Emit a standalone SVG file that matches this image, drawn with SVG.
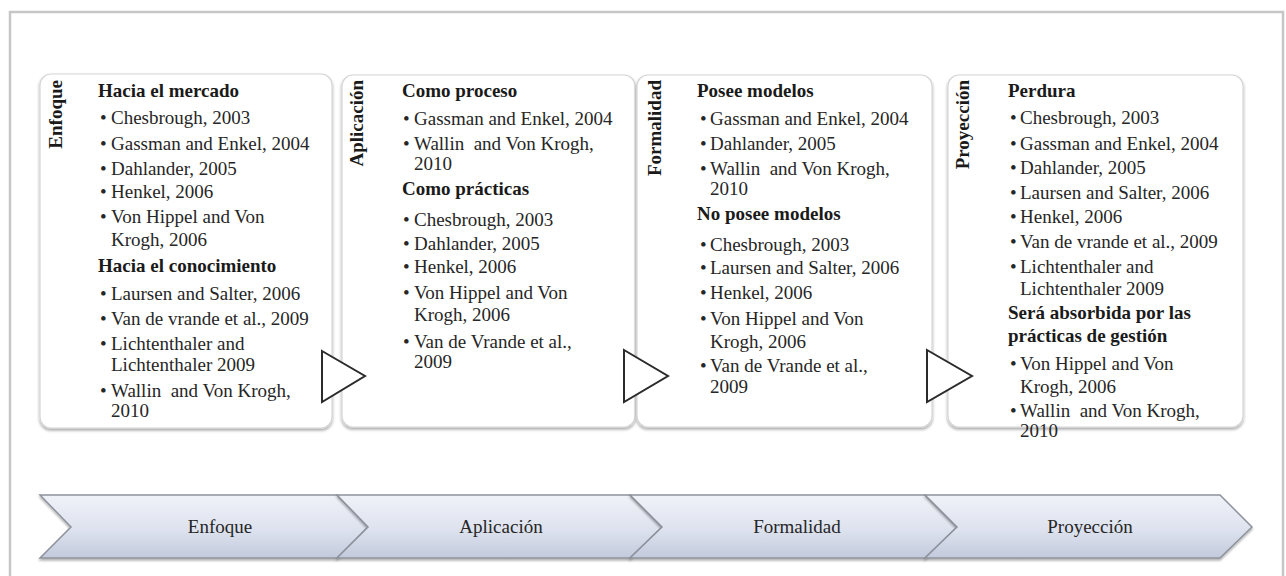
<svg xmlns="http://www.w3.org/2000/svg" width="1286" height="576" viewBox="0 0 1286 576">
  <style>
    .frame { fill: #ffffff; stroke: #c6c6c6; stroke-width: 2.5; }
    .card { fill: #ffffff; stroke: #d6d6d6; stroke-width: 1.2; filter: url(#cardShadow); }
    .t { font-family: "Liberation Serif", "Times New Roman", serif; font-size: 19px; fill: #262626; }
    .h { font-family: "Liberation Serif", "Times New Roman", serif; font-size: 19px; font-weight: bold; fill: #1a1a1a; }
    .side { font-family: "Liberation Serif", "Times New Roman", serif; font-size: 19px; font-weight: bold; fill: #1a1a1a; text-anchor: end; }
    .tri { fill: #ffffff; stroke: #2b2b2b; stroke-width: 2; stroke-linejoin: miter; }
    .chev { fill: url(#chevFill); stroke: #8d929c; stroke-width: 1.5; stroke-linejoin: miter; filter: url(#chevShadow); }
    .ct { font-family: "Liberation Serif", "Times New Roman", serif; font-size: 19px; fill: #262626; text-anchor: middle; }
  </style>
  <defs>
    <filter id="cardShadow" x="-10%" y="-10%" width="120%" height="120%">
      <feDropShadow dx="0" dy="2" stdDeviation="1.6" flood-color="#000000" flood-opacity="0.35"/>
    </filter>
    <filter id="chevShadow" x="-5%" y="-20%" width="110%" height="150%">
      <feDropShadow dx="0" dy="2" stdDeviation="1.2" flood-color="#000000" flood-opacity="0.3"/>
    </filter>
    <linearGradient id="chevFill" x1="0" y1="0" x2="0" y2="1">
      <stop offset="0" stop-color="#f0f2f8"/>
      <stop offset="0.55" stop-color="#dde2ee"/>
      <stop offset="1" stop-color="#c2cadc"/>
    </linearGradient>
  </defs>

  <rect class="frame" x="10" y="12" width="1273" height="580"/>

  <!-- Card: Enfoque -->
  <g id="card-enfoque">
    <rect class="card" x="40" y="74" width="292" height="354" rx="11"/>
    <text class="side" transform="translate(62,80) rotate(-90)">Enfoque</text>
    <text class="h" x="98" y="97">Hacia el mercado</text>
    <text class="t" x="100" y="124">•</text><text class="t" x="111" y="124">Chesbrough, 2003</text>
    <text class="t" x="100" y="150">•</text><text class="t" x="111" y="150">Gassman and Enkel, 2004</text>
    <text class="t" x="100" y="175">•</text><text class="t" x="111" y="175">Dahlander, 2005</text>
    <text class="t" x="100" y="198">•</text><text class="t" x="111" y="198">Henkel, 2006</text>
    <text class="t" x="100" y="223">•</text><text class="t" x="111" y="223">Von Hippel and Von</text>
    <text class="t" x="111" y="246">Krogh, 2006</text>
    <text class="h" x="98" y="272">Hacia el conocimiento</text>
    <text class="t" x="100" y="300">•</text><text class="t" x="111" y="300">Laursen and Salter, 2006</text>
    <text class="t" x="100" y="325">•</text><text class="t" x="111" y="325">Van de vrande et al., 2009</text>
    <text class="t" x="100" y="350">•</text><text class="t" x="111" y="350">Lichtenthaler and</text>
    <text class="t" x="111" y="371">Lichtenthaler 2009</text>
    <text class="t" x="100" y="397">•</text><text class="t" x="111" y="397">Wallin&#160; and Von Krogh,</text>
    <text class="t" x="111" y="417">2010</text>
  </g>

  <!-- Card: Aplicación -->
  <g id="card-aplicacion">
    <rect class="card" x="342" y="75" width="293" height="352" rx="11"/>
    <text class="side" transform="translate(363,80) rotate(-90)">Aplicación</text>
    <text class="h" x="402" y="97">Como proceso</text>
    <text class="t" x="403" y="125">•</text><text class="t" x="414" y="125">Gassman and Enkel, 2004</text>
    <text class="t" x="403" y="150">•</text><text class="t" x="414" y="150">Wallin&#160; and Von Krogh,</text>
    <text class="t" x="414" y="170">2010</text>
    <text class="h" x="402" y="195">Como prácticas</text>
    <text class="t" x="403" y="226">•</text><text class="t" x="414" y="226">Chesbrough, 2003</text>
    <text class="t" x="403" y="250">•</text><text class="t" x="414" y="250">Dahlander, 2005</text>
    <text class="t" x="403" y="273">•</text><text class="t" x="414" y="273">Henkel, 2006</text>
    <text class="t" x="403" y="299">•</text><text class="t" x="414" y="299">Von Hippel and Von</text>
    <text class="t" x="414" y="321">Krogh, 2006</text>
    <text class="t" x="403" y="348">•</text><text class="t" x="414" y="348">Van de Vrande et al.,</text>
    <text class="t" x="414" y="368">2009</text>
  </g>

  <!-- Card: Formalidad -->
  <g id="card-formalidad">
    <rect class="card" x="637" y="75" width="295" height="352" rx="11"/>
    <text class="side" transform="translate(661,80) rotate(-90)">Formalidad</text>
    <text class="h" x="697" y="97">Posee modelos</text>
    <text class="t" x="700" y="125">•</text><text class="t" x="710" y="125">Gassman and Enkel, 2004</text>
    <text class="t" x="700" y="150">•</text><text class="t" x="710" y="150">Dahlander, 2005</text>
    <text class="t" x="700" y="175">•</text><text class="t" x="710" y="175">Wallin&#160; and Von Krogh,</text>
    <text class="t" x="710" y="195">2010</text>
    <text class="h" x="697" y="220">No posee modelos</text>
    <text class="t" x="700" y="251">•</text><text class="t" x="710" y="251">Chesbrough, 2003</text>
    <text class="t" x="700" y="274">•</text><text class="t" x="710" y="274">Laursen and Salter, 2006</text>
    <text class="t" x="700" y="299">•</text><text class="t" x="710" y="299">Henkel, 2006</text>
    <text class="t" x="700" y="325">•</text><text class="t" x="710" y="325">Von Hippel and Von</text>
    <text class="t" x="710" y="348">Krogh, 2006</text>
    <text class="t" x="700" y="372">•</text><text class="t" x="710" y="372">Van de Vrande et al.,</text>
    <text class="t" x="710" y="393">2009</text>
  </g>

  <!-- Card: Proyección -->
  <g id="card-proyeccion">
    <rect class="card" x="948" y="75" width="295" height="352" rx="11"/>
    <text class="side" transform="translate(969,80) rotate(-90)">Proyección</text>
    <text class="h" x="1008" y="97">Perdura</text>
    <text class="t" x="1010" y="124">•</text><text class="t" x="1020" y="124">Chesbrough, 2003</text>
    <text class="t" x="1010" y="150">•</text><text class="t" x="1020" y="150">Gassman and Enkel, 2004</text>
    <text class="t" x="1010" y="174">•</text><text class="t" x="1020" y="174">Dahlander, 2005</text>
    <text class="t" x="1010" y="199">•</text><text class="t" x="1020" y="199">Laursen and Salter, 2006</text>
    <text class="t" x="1010" y="223">•</text><text class="t" x="1020" y="223">Henkel, 2006</text>
    <text class="t" x="1010" y="248">•</text><text class="t" x="1020" y="248">Van de vrande et al., 2009</text>
    <text class="t" x="1010" y="273">•</text><text class="t" x="1020" y="273">Lichtenthaler and</text>
    <text class="t" x="1020" y="295">Lichtenthaler 2009</text>
    <text class="h" x="1008" y="319">Será absorbida por las</text>
    <text class="h" x="1008" y="342">prácticas de gestión</text>
    <text class="t" x="1010" y="370">•</text><text class="t" x="1020" y="370">Von Hippel and Von</text>
    <text class="t" x="1020" y="393">Krogh, 2006</text>
    <text class="t" x="1010" y="417">•</text><text class="t" x="1020" y="417">Wallin&#160; and Von Krogh,</text>
    <text class="t" x="1020" y="437">2010</text>
  </g>

  <!-- Connectors between cards -->
  <g id="connectors">
    <polygon class="tri" points="322,351 365,376 322,402"/>
    <polygon class="tri" points="624,350 668,376 624,402"/>
    <polygon class="tri" points="927,350 972,376 927,402"/>
  </g>

  <!-- Process band -->
  <g id="step-enfoque">
    <polygon class="chev" points="40,495 337,495 368,527 337,558 40,558 71,527"/>
    <text class="ct" x="220" y="533">Enfoque</text>
  </g>
  <g id="step-aplicacion">
    <polygon class="chev" points="337,495 630,495 662,527 630,558 337,558 368,527"/>
    <text class="ct" x="501" y="533">Aplicación</text>
  </g>
  <g id="step-formalidad">
    <polygon class="chev" points="630,495 925,495 957,527 925,558 630,558 662,527"/>
    <text class="ct" x="797" y="533">Formalidad</text>
  </g>
  <g id="step-proyeccion">
    <polygon class="chev" points="925,495 1220,495 1252,527 1220,558 925,558 957,527"/>
    <text class="ct" x="1090" y="533">Proyección</text>
  </g>
</svg>
